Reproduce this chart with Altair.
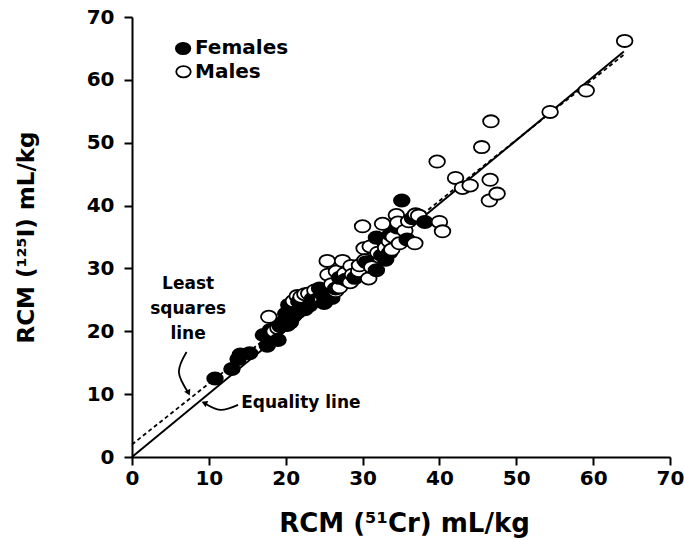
import altair as alt
import pandas as pd

# ---- data ----
fem_x = [10.8, 13.0, 13.8, 14.1, 15.3, 17.1, 17.6, 18.4, 19.0, 19.8, 20.2, 20.6, 20.0,
         20.4, 21.7, 21.5, 23.1, 24.0, 24.4, 25.0, 25.4, 26.0, 27.0, 31.8, 31.8,
         32.5, 33.0, 33.6, 35.1, 35.8, 36.5, 38.1, 34.5,
         18.0, 19.3, 21.0, 22.5, 23.5, 24.8, 26.5, 27.8, 29.0, 33.5, 30.5]
fem_y = [12.5, 14.0, 15.6, 16.3, 16.5, 19.4, 17.7, 19.6, 18.6, 21.6, 21.0, 21.4, 22.8,
         24.2, 24.7, 23.0, 24.1, 25.0, 26.8, 24.5, 26.5, 25.3, 28.5, 29.7, 34.9,
         32.1, 31.4, 35.4, 40.8, 34.6, 38.0, 37.4, 36.5,
         20.2, 20.8, 22.4, 23.5, 25.2, 25.8, 26.8, 28.2, 28.5, 32.5, 31.0]

male_x = [64.1, 59.1, 54.4, 46.7, 45.5, 39.7, 42.1, 43.0, 44.0, 46.6, 46.5, 47.5,
          40.0, 40.4, 36.8, 36.9, 34.4, 34.6, 34.8, 33.5, 32.6, 30.0, 30.2, 31.0,
          30.8, 29.5, 29.6, 28.4, 28.5, 27.4, 25.4, 25.5, 26.5, 26.6, 22.0, 21.5,
          23.0, 17.8, 18.5, 24.7,
          21.0, 22.5, 23.8, 26.0, 27.0, 27.7, 28.7, 30.3, 31.2, 32.0, 33.0, 34.0,
          35.5, 36.0, 37.3, 33.8, 19.0]
male_y = [66.2, 58.3, 54.9, 53.4, 49.3, 47.0, 44.4, 42.8, 43.2, 44.1, 40.8, 41.9,
          37.4, 35.9, 34.0, 38.6, 38.5, 37.3, 34.0, 34.3, 37.1, 36.7, 33.2, 33.5,
          28.4, 29.6, 30.5, 27.8, 30.4, 31.2, 31.2, 29.0, 26.4, 29.5, 25.5, 25.6,
          26.0, 22.3, 20.0, 25.2,
          24.8, 25.9, 26.5, 27.5, 27.0, 29.2, 29.0, 31.3, 30.2, 32.5, 33.3, 35.0,
          36.0, 37.5, 38.4, 33.0, 20.5]

eq_x = [0, 64]
eq_y = [0, 64.5]
ls_x = [0, 64]
ls_y = [2.0, 64.0]

legend_labels = ["Females", "Males"]
legend_x = [6.65, 6.7]
legend_y = [65.0, 61.3]
legend_text_x = 8.2

ann_text = ["Least", "squares", "line", "Equality line"]
ann_x = [7.3, 7.3, 7.3, 14.2]
ann_y = [27.5, 23.6, 19.6, 8.6]
ann_align = ["center", "center", "center", "left"]

arrow1_x = [7.1, 6.1, 7.35]
arrow1_y = [16.7, 13.5, 10.2]
arrow2_x = [13.8, 11.5, 9.4]
arrow2_y = [8.3, 7.5, 8.6]

FONT = "DejaVu Sans"
# slightly wide ellipse (the reference figure is stretched horizontally)
ELLIPSE = "M -1 0 A 1 0.78 0 1 1 1 0 A 1 0.78 0 1 1 -1 0 Z"

pts = pd.DataFrame({
    "x": male_x + fem_x,
    "y": male_y + fem_y,
    "sex": ["Males"] * len(male_x) + ["Females"] * len(fem_x),
})
pts = pts.sort_values("x", kind="stable").reset_index(drop=True)
pts["o"] = range(len(pts))

xs = alt.Scale(domain=[0, 70], nice=False)
ys = alt.Scale(domain=[0, 70], nice=False)

xaxis = alt.Axis(values=list(range(0, 80, 10)), title="RCM (⁵¹Cr) mL/kg",
                 titleY=66, titleBaseline="middle", titleX=272)
yaxis = alt.Axis(values=list(range(0, 80, 10)), title="RCM (¹²⁵I) mL/kg",
                 titleX=-106, titleY=220, titleAngle=-90, titleBaseline="middle",
                 titleAlign="center", titleFontSize=23)

fill_scale = alt.Scale(domain=["Females", "Males"], range=["black", "white"])

eq = alt.Chart(pd.DataFrame({"x": eq_x, "y": eq_y})).mark_line(
    color="black", strokeWidth=2).encode(
    x=alt.X("x:Q", scale=xs, axis=xaxis), y=alt.Y("y:Q", scale=ys, axis=yaxis))

ls = alt.Chart(pd.DataFrame({"x": ls_x, "y": ls_y})).mark_line(
    color="black", strokeWidth=1.8, strokeDash=[4, 3]).encode(
    x=alt.X("x:Q", scale=xs), y=alt.Y("y:Q", scale=ys))

points = alt.Chart(pts).mark_point(
    shape=ELLIPSE, filled=False, size=245, strokeWidth=1.8, stroke="black",
    opacity=1).encode(
    x=alt.X("x:Q", scale=xs), y=alt.Y("y:Q", scale=ys),
    fill=alt.Fill("sex:N", scale=fill_scale, legend=None),
    order="o:Q")

leg_df = pd.DataFrame({"x": legend_x, "y": legend_y, "sex": legend_labels,
                       "tx": [legend_text_x] * 2})
leg_pts = alt.Chart(leg_df).mark_point(
    shape=ELLIPSE, size=210, strokeWidth=1.8, stroke="black", opacity=1).encode(
    x=alt.X("x:Q", scale=xs), y=alt.Y("y:Q", scale=ys),
    fill=alt.Fill("sex:N", scale=fill_scale, legend=None))
leg_txt = alt.Chart(leg_df).mark_text(
    align="left", baseline="middle", font=FONT, fontSize=20, fontWeight="bold",
    color="black").encode(
    x=alt.X("tx:Q", scale=xs), y=alt.Y("y:Q", scale=ys), text="sex:N")

ann_df = pd.DataFrame({"x": ann_x, "y": ann_y, "t": ann_text, "a": ann_align})
ann_c = alt.Chart(ann_df[ann_df["a"] == "center"]).mark_text(
    align="center", baseline="middle", font=FONT, fontSize=17, fontWeight="bold",
    color="black").encode(x=alt.X("x:Q", scale=xs), y=alt.Y("y:Q", scale=ys), text="t:N")
ann_l = alt.Chart(ann_df[ann_df["a"] == "left"]).mark_text(
    align="left", baseline="middle", font=FONT, fontSize=17, fontWeight="bold",
    color="black").encode(x=alt.X("x:Q", scale=xs), y=alt.Y("y:Q", scale=ys), text="t:N")

def arrow(ax, ay, ang):
    df = pd.DataFrame({"x": ax, "y": ay, "o": list(range(len(ax)))})
    ln = alt.Chart(df).mark_line(color="black", strokeWidth=1.8, interpolate="natural").encode(
        x=alt.X("x:Q", scale=xs), y=alt.Y("y:Q", scale=ys), order="o:O")
    head = alt.Chart(df.iloc[[-1]]).mark_point(
        shape="triangle-up", filled=True, color="black", size=45, angle=ang,
        opacity=1).encode(x=alt.X("x:Q", scale=xs), y=alt.Y("y:Q", scale=ys))
    return ln + head

chart = alt.layer(
    eq, ls, points, leg_pts, leg_txt, ann_c, ann_l,
    arrow(arrow1_x, arrow1_y, 155), arrow(arrow2_x, arrow2_y, 292)
).properties(
    width=538, height=440,
    padding={"left": 132, "top": 17, "right": 14, "bottom": 83},
    autosize=alt.AutoSizeParams(type="none"),
).configure_view(stroke=None).configure_axis(
    grid=False, domainColor="black", domainWidth=2, tickColor="black", tickWidth=2,
    tickSize=8, labelFont=FONT, labelFontSize=20, labelFontWeight="bold",
    labelColor="black", labelPadding=3, titleFont=FONT, titleFontSize=26,
    titleFontWeight="bold", titleColor="black", labelFlush=False
).configure_axisY(labelPadding=10)

chart.save("out.html", embed_options={"renderer": "svg", "actions": False})
